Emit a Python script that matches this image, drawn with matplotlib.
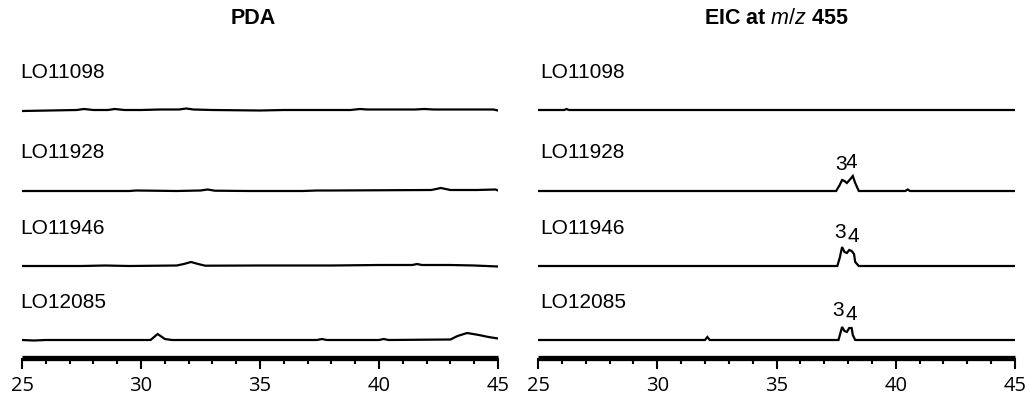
import matplotlib
matplotlib.use("Agg")
import matplotlib.pyplot as plt
from matplotlib.ticker import MultipleLocator

plt.rcParams['font.family'] = ['Liberation Sans', 'DejaVu Sans']
plt.rcParams['mathtext.fontset'] = 'custom'
plt.rcParams['mathtext.it'] = 'Liberation Sans:italic'
plt.rcParams['mathtext.rm'] = 'Liberation Sans'

# ---- data (retention time in min, relative signal) ----
samples = ["LO11098", "LO11928", "LO11946", "LO12085"]

pda_rt = [
    [25, 27.3, 27.6, 28.0, 28.6, 28.9, 29.3, 30.0, 30.8, 31.6, 31.9, 32.2, 33.0, 35.0, 36.0, 37.5, 38.8, 39.2, 39.5, 41.5, 41.9, 42.3, 44.8, 45.0],
    [25, 29.5, 29.8, 31.5, 32.5, 32.8, 33.1, 34.5, 36.8, 37.4, 38.0, 42.2, 42.6, 43.0, 44.1, 44.9, 45],
    [25, 27.5, 28.5, 29.5, 31.5, 31.8, 32.1, 32.4, 32.7, 35, 38, 40, 41.4, 41.6, 41.8, 43, 44, 45],
    [25, 25.5, 26, 30.4, 30.7, 31.0, 31.3, 37.4, 37.6, 37.8, 40.0, 40.2, 40.4, 43.0, 43.3, 43.7, 44.2, 44.6, 45],
]
pda_int = [
    [-1, 0, 1, 0, 0, 1, 0, 0, 0.5, 0.5, 1.5, 0.5, 0, -0.5, 0, 0, 0, 1, 0.5, 0.5, 1, 0.5, 0.5, -0.5],
    [0, 0, 0.5, 0, 0.5, 1.5, 0.3, 0, 0, 0.5, 0.5, 1, 3, 1, 1, 1.5, 0.5],
    [0, 0, 0.5, 0, 0.5, 2, 4, 2, 0.3, 0.5, 0.5, 1, 1, 2, 1, 1, 0.5, -0.5],
    [0, -0.5, 0, 0, 6, 1, 0, 0, 1, 0, 0, 1, 0, 0.5, 4, 7, 5, 3, 1.5],
]

eic_rt = [
    [25, 26.1, 26.2, 26.3, 45],
    [25, 37.5, 37.65, 37.75, 37.85, 37.95, 38.1, 38.2, 38.3, 38.45, 40.4, 40.5, 40.6, 45],
    [25, 37.55, 37.65, 37.75, 37.85, 37.95, 38.05, 38.15, 38.25, 38.3, 38.45, 45],
    [25, 32.0, 32.1, 32.2, 37.5, 37.6, 37.75, 37.85, 37.95, 38.05, 38.15, 38.2, 38.3, 45],
]
eic_int = [
    [0, 0, 1, 0, 0],
    [0, 0, 6, 11, 10, 8, 12, 15, 8, 0, 0, 1.5, 0, 0],
    [0, 0, 8, 19, 14, 13, 16, 15, 12, 4, 0, 0],
    [0, 0, 3, 0, 0, 0, 13, 9, 8, 12, 12, 5, 0, 0],
]

# peak labels on the EIC traces: (row, label, rt, height)
peak_labels = [
    (1, "3", 37.7, 26), (1, "4", 38.15, 29),
    (2, "3", 37.65, 34), (2, "4", 38.2, 29),
    (3, "3", 37.6, 29), (3, "4", 38.15, 25),
]

# vertical position of each trace (in pixel-like units)
offsets = [248, 167, 92, 18]

fig = plt.figure(figsize=(10.30, 3.99), dpi=100)
ax1 = fig.add_axes([22/1030, 41/399, 476/1030, 318/399])
ax2 = fig.add_axes([538/1030, 41/399, 477/1030, 318/399])


def style_axis(ax):
    ax.set_xlim(25, 45)
    ax.set_ylim(0, 318)
    for s in ["top", "left", "right"]:
        ax.spines[s].set_visible(False)
    ax.spines["bottom"].set_linewidth(3.8)
    ax.spines["bottom"].set_capstyle("butt")
    ax.set_yticks([])
    ax.xaxis.set_major_locator(MultipleLocator(5))
    ax.xaxis.set_minor_locator(MultipleLocator(1))
    ax.tick_params(axis="x", which="major", length=8, width=1.5, pad=5)
    ax.tick_params(axis="x", which="minor", length=4.5, width=1.5)
    for lab in ax.get_xticklabels():
        lab.set_fontfamily("Open Sans")
        lab.set_fontsize(14.5)


for ax, rts, ints in [(ax1, pda_rt, pda_int), (ax2, eic_rt, eic_int)]:
    style_axis(ax)
    for i, name in enumerate(samples):
        y = [v + offsets[i] for v in ints[i]]
        ax.plot(rts[i], y, color="black", lw=1.6, solid_joinstyle="miter")
        ax.text(24.92 if ax is ax1 else 25.08, offsets[i] + 38, name,
                fontsize=15, va="center", ha="left")

for row, lab, rt, h in peak_labels:
    ax2.text(rt, offsets[row] + h, lab, fontsize=15, ha="center", va="center")

fig.text(253/1030, 1 - 19/399, "PDA", fontsize=15.5, fontweight="bold",
         ha="center", va="center")
fig.text(776/1030, 1 - 19/399, "EIC at $m/z$ 455", fontsize=15.5, fontweight="bold",
         ha="center", va="center")

fig.savefig("out.png", dpi=100)
